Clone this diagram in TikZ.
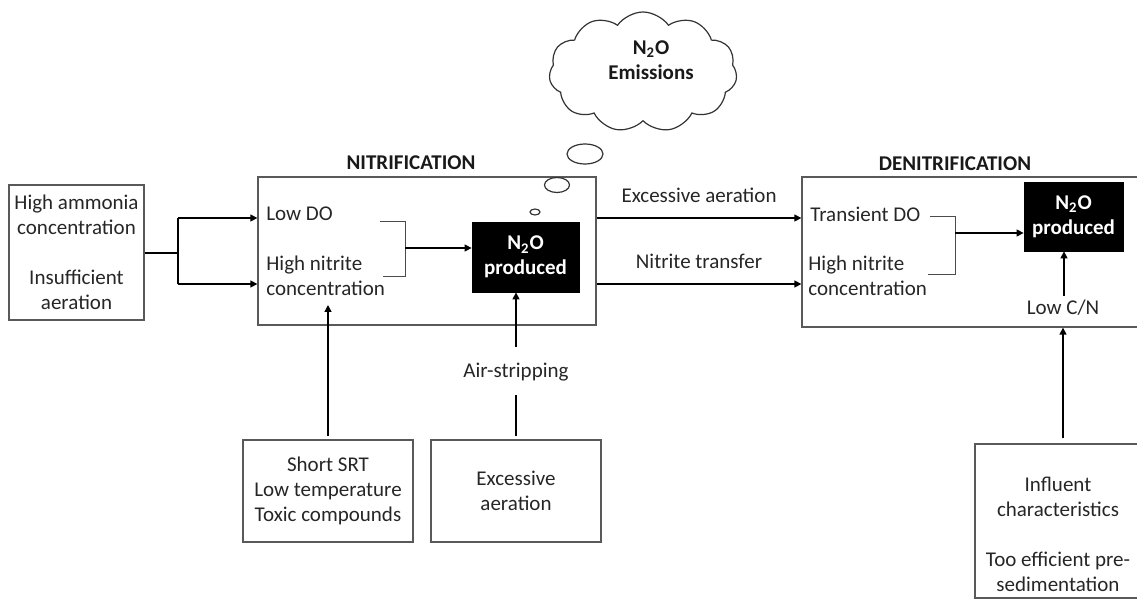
\documentclass[tikz,border=0pt]{standalone}
\usepackage{fontspec}
\setmainfont{Carlito}
\usetikzlibrary{arrows.meta,shapes.symbols,shapes.geometric}
\newcommand{\nfont}{\fontsize{10.5}{12.5}\selectfont}
\begin{document}
\begin{tikzpicture}[x=0.5pt,y=-0.5pt,font=\nfont,
  box/.style={draw=black!65, line width=0.65pt, inner sep=0pt, align=center, text=black!85},
  prod/.style={fill=black, draw=black, text=white, font=\nfont\bfseries, align=center, inner sep=0pt},
  txt/.style={inner sep=0pt, text=black!85},
  ttl/.style={inner sep=0pt, text=black!90, font=\nfont\bfseries},
  arr/.style={draw=black, line width=0.7pt, -{Triangle[length=3.5pt,width=3.5pt]}},
  ln/.style={draw=black, line width=0.7pt},
  brk/.style={draw=black!70, line width=0.5pt},
  bub/.style={draw=black!80, line width=0.6pt}]
\useasboundingbox (0,0) rectangle (1137,599);
\clip (0,0) rectangle (1137,599);

% left input box
\node[box, minimum width=67.5pt, minimum height=67.5pt] (L) at (76.5,252.5)
  {High ammonia\\concentration\\[12.5pt]Insufficient\\aeration};

% nitrification box
\node[box, minimum width=169pt, minimum height=74pt] (N) at (427,251) {};
\node[ttl] (Nt) at (411,163) {NITRIFICATION};
\node[txt, anchor=west] (lowdo) at (266,214) {Low DO};
\node[txt, anchor=west, align=left] (hn1) at (266,276) {High nitrite\\concentration};
\node[prod, minimum width=53.5pt, minimum height=35pt] (P1) at (525.5,257) {N\textsubscript{2}O\\produced};

% bracket in nitrification
\coordinate (b1t) at (405,222);
\coordinate (b1b) at (405,277);
\coordinate (b1m) at (405,248);
\coordinate (b1ts) at (380,222);
\coordinate (b1bs) at (383,277);
\draw[brk] (b1ts) -- (b1t) -- (b1b) -- (b1bs);
\draw[arr] (b1m) -- (b1m -| P1.west);

% left connector
\coordinate (j) at (178,253);
\coordinate (ja) at (178,218);
\coordinate (jb) at (178,284);
\draw[ln] (L.east |- j) -- (j);
\draw[ln] (ja) -- (jb);
\draw[arr] (ja) -- (ja -| N.west);
\draw[arr] (jb) -- (jb -| N.west);

% bubbles and cloud
\node[bub, ellipse, minimum width=5pt, minimum height=3pt, inner sep=0pt] (e1) at (535,212) {};
\node[bub, ellipse, minimum width=12.5pt, minimum height=7.5pt, inner sep=0pt] (e2) at (557,185) {};
\node[bub, ellipse, minimum width=18pt, minimum height=10pt, inner sep=0pt] (e3) at (585,154) {};
\node[cloud, draw=black!80, line width=0.6pt, cloud puffs=11, cloud puff arc=110, aspect=1.5,
      minimum width=94pt, minimum height=60pt, inner sep=0pt] (C) at (643,72) {};
\node[ttl, align=center] (Ct) at (651,60) {N\textsubscript{2}O\\Emissions};

% denitrification box
\node[box, minimum width=174pt, minimum height=75pt] (D) at (976,252) {};
\node[ttl] (Dt) at (955,164) {DENITRIFICATION};
\node[txt, anchor=west] (tdo) at (810,214) {Transient DO};
\node[txt, anchor=west, align=left] (hn2) at (808,276) {High nitrite\\concentration};
\node[prod, minimum width=49.5pt, minimum height=34.5pt] (P2) at (1073.5,216.5) {N\textsubscript{2}O\\produced};
\node[txt] (lcn) at (1063,308) {Low C/N};

% bracket in denitrification
\coordinate (b2ts) at (930,217);
\coordinate (b2t) at (955,217);
\coordinate (b2b) at (955,275);
\coordinate (b2bs) at (928,275);
\coordinate (b2m) at (955,233);
\draw[brk] (b2ts) -- (b2t) -- (b2b) -- (b2bs);
\draw[arr] (b2m) -- (b2m -| P2.west);
\coordinate (lcntop) at (1064,296);
\draw[arr] (lcntop) -- (lcntop |- P2.south);

% connectors between the two processes
\coordinate (x1) at (597,218);
\coordinate (x2) at (597,284);
\draw[arr] (x1 -| N.east) -- (x1 -| D.west) node[txt, midway, above=7.5pt] (xa) {Excessive aeration};
\draw[arr] (x2 -| N.east) -- (x2 -| D.west) node[txt, midway, above=7.5pt] (nt) {Nitrite transfer};

% bottom boxes
\node[box, minimum width=85pt, minimum height=51pt] (B1) at (328,491)
  {Short SRT\\Low temperature\\Toxic compounds};
\node[box, minimum width=85pt, minimum height=51pt] (B2) at (516,491)
  {Excessive\\aeration};
\node[box, minimum width=90pt, minimum height=77pt] (B3) at (1065,521) {};
\node[txt, align=center] (B3t) at (1058,534)
  {Influent\\characteristics\\[12.5pt]Too efficient pre-\\sedimentation};

\coordinate (t1) at (328,305);
\draw[arr, shorten <=1.5pt] (B1.north) -- (t1);

\node[txt] (air) at (516,372) {Air-stripping};
\coordinate (a1) at (516,395);
\coordinate (a2) at (516,347);
\draw[ln, shorten <=1.5pt] (B2.north) -- (a1);
\draw[arr] (a2) -- (P1.south -| a2);

\coordinate (c1) at (1063,444);
\draw[arr, shorten <=3pt] (c1) -- (c1 |- D.south);
\end{tikzpicture}
\end{document}
